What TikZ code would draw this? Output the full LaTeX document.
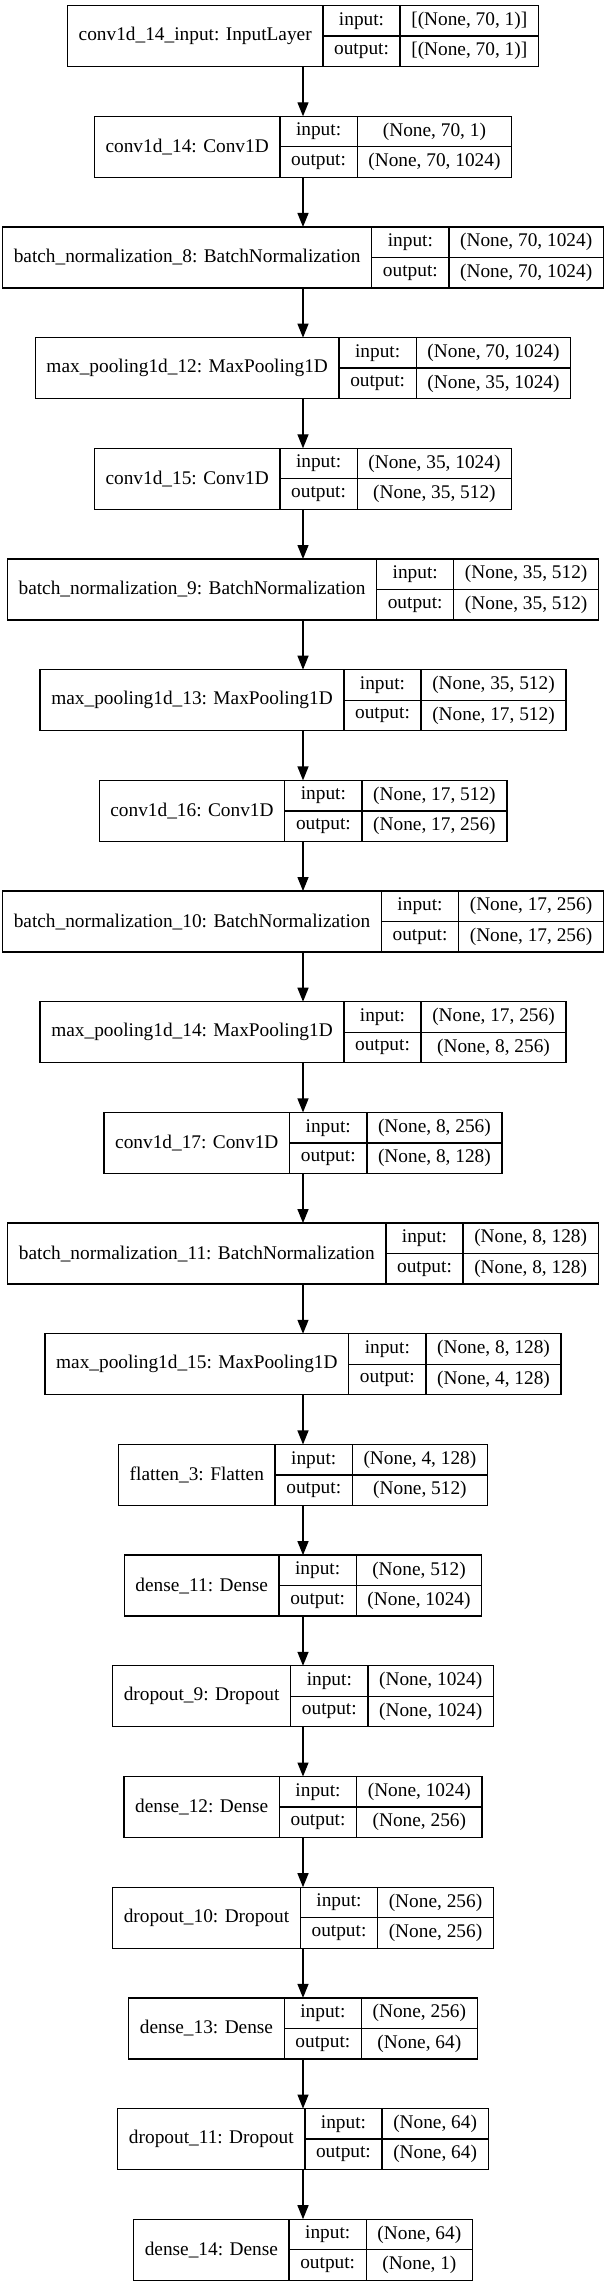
\documentclass[tikz,border=0pt]{standalone}
\usepackage{fontspec}
\setmainfont{Liberation Serif}
\usetikzlibrary{arrows.meta}
\newlength\lwn \newlength\lwp \newlength\lwv \newlength\lwt
\newcommand\lfont{\fontsize{14.5}{17}\selectfont}
\tikzset{
  fieldbox/.style={draw=black, line width=1pt, inner sep=0pt, outer sep=0pt, font=\lfont, anchor=north west},
  wholebox/.style={inner sep=0pt, outer sep=0pt, anchor=north},
  flowarrow/.style={line width=1pt, -{Triangle[length=10.5pt,width=8.25pt]}}
}
\newcommand\nnlayer[5]{%
  \pgfinterruptpicture
    \setbox0\hbox{\normalfont\lfont #3}\global\lwn=\dimexpr\wd0+16.8pt\relax
    \setbox0\hbox{\normalfont\lfont output:}\global\lwp=\dimexpr\wd0+16.8pt\relax
    \setbox0\hbox{\normalfont\lfont #4}\global\lwv=\wd0
    \setbox0\hbox{\normalfont\lfont #5}\ifdim\wd0>\lwv \global\lwv=\wd0 \fi
    \global\lwv=\dimexpr\lwv+16.8pt\relax
    \global\lwt=\dimexpr\lwn+\lwp+\lwv\relax
  \endpgfinterruptpicture
  \pgfmathsetmacro\ytop{-(5.6+#2*110.68)*0.75}%
  \pgfmathsetmacro\xl{227.25-0.5*\lwt}%
  \node[wholebox, minimum width=\lwt, minimum height=45.75pt] (#1) at (227.25pt,\ytop pt) {};
  \node[fieldbox, minimum width=\lwn, minimum height=45.75pt] (#1n) at (\xl pt,\ytop pt) {#3};
  \node[fieldbox, minimum width=\lwp, minimum height=22.875pt] (#1pi) at (#1n.north east) {input:};
  \node[fieldbox, minimum width=\lwp, minimum height=22.875pt] (#1po) at (#1pi.south west) {output:};
  \node[fieldbox, minimum width=\lwv, minimum height=22.875pt] (#1vi) at (#1pi.north east) {#4};
  \node[fieldbox, minimum width=\lwv, minimum height=22.875pt] (#1vo) at (#1vi.south west) {#5};
}
\begin{document}
\begin{tikzpicture}
\useasboundingbox (0,0) rectangle (453.75pt,-1715.25pt);
\nnlayer{L0}{0}{conv1d\_14\_input: InputLayer}{[(None, 70, 1)]}{[(None, 70, 1)]}
\nnlayer{L1}{1}{conv1d\_14: Conv1D}{(None, 70, 1)}{(None, 70, 1024)}
\nnlayer{L2}{2}{batch\_normalization\_8: BatchNormalization}{(None, 70, 1024)}{(None, 70, 1024)}
\nnlayer{L3}{3}{max\_pooling1d\_12: MaxPooling1D}{(None, 70, 1024)}{(None, 35, 1024)}
\nnlayer{L4}{4}{conv1d\_15: Conv1D}{(None, 35, 1024)}{(None, 35, 512)}
\nnlayer{L5}{5}{batch\_normalization\_9: BatchNormalization}{(None, 35, 512)}{(None, 35, 512)}
\nnlayer{L6}{6}{max\_pooling1d\_13: MaxPooling1D}{(None, 35, 512)}{(None, 17, 512)}
\nnlayer{L7}{7}{conv1d\_16: Conv1D}{(None, 17, 512)}{(None, 17, 256)}
\nnlayer{L8}{8}{batch\_normalization\_10: BatchNormalization}{(None, 17, 256)}{(None, 17, 256)}
\nnlayer{L9}{9}{max\_pooling1d\_14: MaxPooling1D}{(None, 17, 256)}{(None, 8, 256)}
\nnlayer{L10}{10}{conv1d\_17: Conv1D}{(None, 8, 256)}{(None, 8, 128)}
\nnlayer{L11}{11}{batch\_normalization\_11: BatchNormalization}{(None, 8, 128)}{(None, 8, 128)}
\nnlayer{L12}{12}{max\_pooling1d\_15: MaxPooling1D}{(None, 8, 128)}{(None, 4, 128)}
\nnlayer{L13}{13}{flatten\_3: Flatten}{(None, 4, 128)}{(None, 512)}
\nnlayer{L14}{14}{dense\_11: Dense}{(None, 512)}{(None, 1024)}
\nnlayer{L15}{15}{dropout\_9: Dropout}{(None, 1024)}{(None, 1024)}
\nnlayer{L16}{16}{dense\_12: Dense}{(None, 1024)}{(None, 256)}
\nnlayer{L17}{17}{dropout\_10: Dropout}{(None, 256)}{(None, 256)}
\nnlayer{L18}{18}{dense\_13: Dense}{(None, 256)}{(None, 64)}
\nnlayer{L19}{19}{dropout\_11: Dropout}{(None, 64)}{(None, 64)}
\nnlayer{L20}{20}{dense\_14: Dense}{(None, 64)}{(None, 1)}
\foreach \a/\b in {L0/L1,L1/L2,L2/L3,L3/L4,L4/L5,L5/L6,L6/L7,L7/L8,L8/L9,L9/L10,L10/L11,L11/L12,L12/L13,L13/L14,L14/L15,L15/L16,L16/L17,L17/L18,L18/L19,L19/L20}
  \draw[flowarrow] (\a.south) -- (\b.north);
\end{tikzpicture}
\end{document}
